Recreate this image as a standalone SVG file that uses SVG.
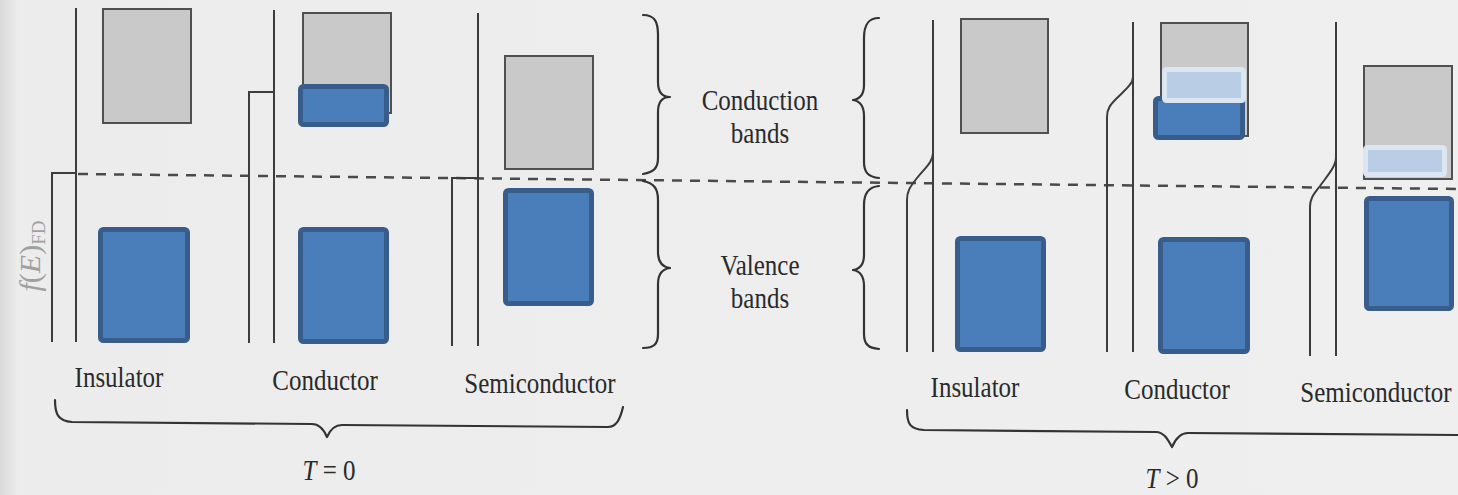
<svg xmlns="http://www.w3.org/2000/svg" width="1458" height="495" viewBox="0 0 1458 495">
<style>
.ax{stroke:#3c3c3c;stroke-width:2;fill:none}
.cb{fill:#c9c9c9;stroke:#505050;stroke-width:2}
.vb{fill:#4a7ebb;stroke:#385d8a;stroke-width:5}
.lb{fill:#b9cde5;stroke:#dce6f2;stroke-width:5}
.br{stroke:#333;stroke-width:2.2;fill:none;stroke-linecap:round;stroke-linejoin:round}
.t{font-family:"Liberation Serif","Times New Roman",serif;font-size:25px;fill:#2a2a2a;text-anchor:middle}
.dash{stroke:#4a4a4a;stroke-width:2.5;stroke-dasharray:10 8;fill:none}
</style>
<defs>
<linearGradient id="bg" x1="0" y1="0" x2="1" y2="0">
<stop offset="0" stop-color="#d9d9d9"/>
<stop offset="0.012" stop-color="#ececec"/>
<stop offset="1" stop-color="#efefef"/>
</linearGradient>
</defs>
<rect x="0" y="0" width="1458" height="495" fill="url(#bg)"/>

<text transform="translate(40,256) rotate(-90)" style="font-family:'Liberation Serif',serif;font-size:30px;fill:#a0a0a0;text-anchor:middle"><tspan font-style="italic">f</tspan>(<tspan font-style="italic">E</tspan>)<tspan font-size="19" dy="5">FD</tspan></text>

<g id="connectors">
<path class="dash" d="M78,174 L1458,189"/>
</g>

<g id="insulator-t0">
<path class="ax" d="M76,8 L76,342"/>
<path class="ax" d="M52,342 L52,173 L76,173"/>
<rect class="cb" x="103" y="9" width="88" height="114"/>
<rect class="vb" x="100.5" y="229.5" width="87" height="111" rx="3"/>
<text class="t" transform="translate(119,387) scale(1,1.22)">Insulator</text>
</g>

<g id="conductor-t0">
<path class="ax" d="M274,10 L274,343"/>
<path class="ax" d="M249,343 L249,92 L274,92"/>
<rect class="cb" x="303" y="13" width="88" height="100"/>
<rect class="vb" x="300.5" y="86.5" width="86" height="38" rx="3"/>
<rect class="vb" x="300.5" y="229.5" width="86" height="112" rx="3"/>
<text class="t" transform="translate(325,390) scale(1,1.22)">Conductor</text>
</g>

<g id="semiconductor-t0">
<path class="ax" d="M478,13 L478,346"/>
<path class="ax" d="M452,346 L452,178 L478,178"/>
<rect class="cb" x="505" y="56" width="88" height="113"/>
<rect class="vb" x="505.5" y="190.5" width="86" height="113" rx="3"/>
<text class="t" transform="translate(540,393) scale(1,1.22)">Semiconductor</text>
</g>

<g id="brace-t0">
<path class="br" d="M55,400 C55,414 58,421 72,422 L312,424 C320,424 324,430 327,437 C330,430 334,425 342,425 L608,427 C616,427 620,420 623,407"/>
<text class="t" transform="translate(329,480) scale(1,1.22)"><tspan font-style="italic">T</tspan> = 0</text>
</g>

<g id="band-labels">
<path class="br" d="M643,15 C655,15 658,22 658,35 L658,82 C658,92 662,97 670,97 C662,97 658,102 658,112 L658,158 C658,168 654,172 643,174"/>
<path class="br" d="M643,181 C655,183 658,190 658,200 L658,252 C658,262 662,267 670,268 C662,269 658,274 658,284 L658,334 C658,344 654,348 643,348"/>
<path class="br" d="M879,18 C868,18 864,25 864,38 L864,85 C864,95 860,99 853,100 C860,101 864,106 864,116 L864,162 C864,172 868,177 879,178"/>
<path class="br" d="M879,186 C868,187 864,194 864,205 L864,255 C864,265 860,269 853,270 C860,271 864,276 864,286 L864,334 C864,344 868,348 879,349"/>
<text class="t" transform="translate(760,110) scale(1,1.22)">Conduction</text>
<text class="t" transform="translate(760,143) scale(1,1.22)">bands</text>
<text class="t" transform="translate(760,275) scale(1,1.22)">Valence</text>
<text class="t" transform="translate(760,308) scale(1,1.22)">bands</text>
</g>

<g id="insulator-t1">
<path class="ax" d="M933,20 L933,352"/>
<path class="ax" d="M907,352 L907,200 C907,190 911,186 917,178 C925,168 933,162 933,153"/>
<rect class="cb" x="961" y="19" width="87" height="114"/>
<rect class="vb" x="957.5" y="238.5" width="86" height="111" rx="3"/>
<text class="t" transform="translate(975,397) scale(1,1.22)">Insulator</text>
</g>

<g id="conductor-t1">
<path class="ax" d="M1133,22 L1133,352"/>
<path class="ax" d="M1107,352 L1107,117 C1107,108 1111,104 1117,98 C1125,90 1133,84 1133,77"/>
<rect class="cb" x="1161" y="23" width="87" height="113"/>
<rect class="vb" x="1155.5" y="98.5" width="87" height="39" rx="3"/>
<rect class="lb" x="1164.5" y="69.5" width="79" height="31" rx="2"/>
<rect class="vb" x="1160.5" y="239.5" width="87" height="112" rx="3"/>
<text class="t" transform="translate(1177,399) scale(1,1.22)">Conductor</text>
</g>

<g id="semiconductor-t1">
<path class="ax" d="M1336,22 L1336,356"/>
<path class="ax" d="M1310,356 L1310,207 C1310,198 1314,194 1320,186 C1327,176 1336,167 1336,157"/>
<rect class="cb" x="1364" y="66" width="88" height="113"/>
<rect class="lb" x="1365.5" y="147.5" width="79" height="27" rx="2"/>
<rect class="vb" x="1366.5" y="198.5" width="85" height="110" rx="3"/>
<text class="t" transform="translate(1376,402) scale(1,1.22)">Semiconductor</text>
</g>

<g id="brace-t1">
<path class="br" d="M907,410 C907,424 910,429 924,430 L1156,432 C1164,432 1168,440 1172,447 C1175,440 1180,433 1188,433 L1458,435"/>
<text class="t" transform="translate(1172,488) scale(1,1.22)"><tspan font-style="italic">T</tspan> &gt; 0</text>
</g>
</svg>
